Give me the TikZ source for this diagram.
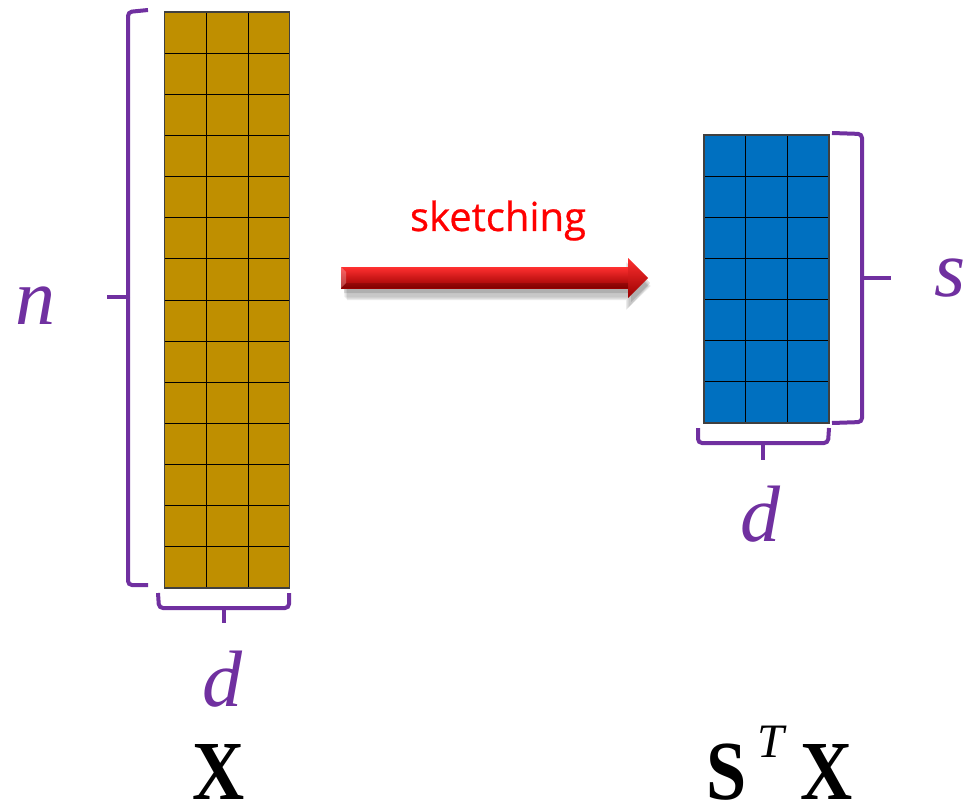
\documentclass[tikz,border=0pt]{standalone}
\usepackage{fontspec}
\usepackage{graphicx}
\setmainfont{Liberation Serif}
\newfontfamily\sketchfont[FakeBold=0.6]{Open Sans}
\definecolor{goldfill}{HTML}{BF8F00}
\definecolor{bluefill}{HTML}{0070C0}
\definecolor{bracepurple}{HTML}{7030A0}
\definecolor{arrowtop}{HTML}{FF3030}
\definecolor{arrowmid}{HTML}{F20000}
\definecolor{arrowbot}{HTML}{990000}
\begin{document}
\begin{tikzpicture}[x=1pt,y=-1pt,
  brace/.style={draw=bracepurple, line width=4pt, rounded corners=4pt, line cap=butt},
  cellline/.style={draw=black, line width=1pt},
  matborder/.style={draw=black!75, line width=1.5pt},
  dimlabel/.style={text=bracepurple, font=\fontsize{80}{80}\selectfont\itshape, inner sep=0pt, anchor=base},
  matlabel/.style={text=black, font=\fontsize{84}{84}\selectfont\bfseries, inner sep=0pt, anchor=base},
  sketchlabel/.style={text=red, font=\sketchfont\fontsize{40}{40}\selectfont, inner sep=0pt, anchor=base}]
\useasboundingbox (0,0) rectangle (968,810);

% ---------- matrix X (14 x 3) ----------
\fill[goldfill] (164.5,12) rectangle (289.5,588);
\foreach \i in {1,...,13} {
  \draw[cellline] (164.5,{12+\i*576/14}) -- (289.5,{12+\i*576/14});
}
\draw[cellline] (206,12) -- (206,588);
\draw[cellline] (248,12) -- (248,588);
\draw[matborder] (164.5,12) rectangle (289.5,588);

% ---------- matrix S^T X (7 x 3) ----------
\fill[bluefill] (704,135) rectangle (829,423);
\foreach \i in {1,...,6} {
  \draw[cellline] (704,{135+\i*288/7}) -- (829,{135+\i*288/7});
}
\draw[cellline] (745.5,135) -- (745.5,423);
\draw[cellline] (787.5,135) -- (787.5,423);
\draw[matborder] (704,135) rectangle (829,423);

% ---------- braces ----------
% n brace
\draw[brace] (148,10) -- (128,12) -- (128,297);
\draw[brace] (128,297) -- (128,585) -- (148,585);
\draw[bracepurple, line width=4pt] (128,297) -- (107,297);
% d brace under X
\draw[brace] (158,593) -- (159,608) -- (289,608) -- (289,593);
\draw[bracepurple, line width=4pt] (224,608) -- (224,623);
% s brace
\draw[brace] (832,133) -- (862,134) -- (862,278);
\draw[brace] (862,278) -- (862,422) -- (832,423);
\draw[bracepurple, line width=4pt] (862,278) -- (891,278);
% d brace under S^T X
\draw[brace] (698,428) -- (698,443) -- (828,443) -- (829,428);
\draw[bracepurple, line width=4pt] (763,443) -- (763,460);

% ---------- labels ----------
\node[dimlabel] (lbln) at (36,324) {n};
\node[dimlabel] (lbld1) at (222,706) {d};
\node[dimlabel] (lbls) at (950,296) {s};
\node[dimlabel] (lbld2) at (760,541) {d};
\node[matlabel] (lblX) at (219,799) {\raisebox{0pt}[\height][0pt]{\scalebox{0.86}[1]{X}}};
\node[matlabel] (lblSX) at (780,799) {\raisebox{0pt}[\height][0pt]{\scalebox{0.86}[1]{S}\hspace{10pt}\raisebox{42pt}{\fontsize{48}{48}\selectfont\mdseries\itshape T}\hspace{17pt}\scalebox{0.86}[1]{X}}};

% ---------- sketching arrow ----------
\foreach \k/\o in {1/0.05,2/0.05,3/0.06,4/0.08} {
  \fill[black, opacity=\o] ({343+\k},{276-\k}) -- ({630-\k},{276-\k}) -- ({630-\k},{266-\k}) -- (652-\k,286) -- ({630-\k},{306+\k}) -- ({630-\k},{296+\k}) -- ({343+\k},{296+\k}) -- cycle;
}
\fill[black, opacity=0.12] (344,272) -- (631,272) -- (631,264) -- (650,283) -- (631,302) -- (631,293) -- (344,293) -- cycle;
\shade[top color=arrowtop, middle color=arrowmid, bottom color=arrowbot] (341,267) rectangle (629,288);
\shade[top color=arrowtop, middle color=arrowmid, bottom color=arrowbot] (628,258) -- (648,278) -- (628,298) -- cycle;
\fill[white, opacity=0.25] (341,267) -- (346,272) -- (346,283) -- (341,288) -- cycle;
\fill[black, opacity=0.15] (341,288) -- (346,283) -- (628,283) -- (628,288) -- cycle;
\node[sketchlabel] (lblsk) at (498,231) {sketching};
\end{tikzpicture}
\end{document}
